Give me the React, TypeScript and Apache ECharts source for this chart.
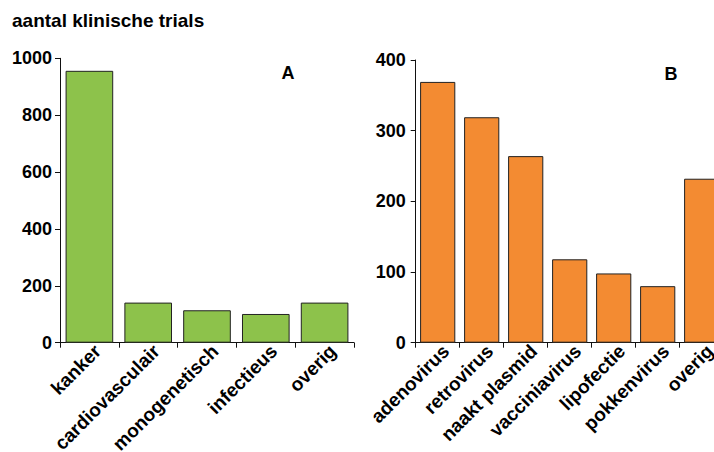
import React, { useEffect, useRef } from "react";
import * as echarts from "echarts";

const titleText = "aantal klinische trials";
const categoriesA = ["kanker", "cardiovasculair", "monogenetisch", "infectieus", "overig"];
const valuesA = [956, 141, 114, 101, 141];
const categoriesB = ["adenovirus", "retrovirus", "naakt plasmid", "vacciniavirus", "lipofectie", "pokkenvirus", "overig"];
const valuesB = [369, 319, 264, 118, 98, 80, 232];
const panelA = "A";
const panelB = "B";

const FONT = "'Liberation Sans', Arial, Helvetica, sans-serif";

export default function App() {
  const ref = useRef<HTMLDivElement>(null);
  useEffect(() => {
    if (!ref.current) return;
    const chart = echarts.init(ref.current, undefined, { renderer: "svg" });
    const axisLine = { show: true, lineStyle: { color: "#111", width: 1 } };
    const axisTick = { show: true, length: 5, inside: false, lineStyle: { color: "#111", width: 1 } };
    const xLabel = {
      interval: 0,
      rotate: 45,
      margin: 0,
      verticalAlign: "top" as const,
      padding: [0, -2, 0, 0],
      fontSize: 19,
      fontWeight: "bold" as const,
      color: "#000",
      fontFamily: FONT,
    };
    const yLabel = {
      fontSize: 18,
      fontWeight: "bold" as const,
      color: "#000",
      fontFamily: FONT,
      formatter: (v: number) => String(v),
    };
    chart.setOption({
      animation: false,
      backgroundColor: "#fff",
      title: {
        text: titleText,
        left: 7,
        top: 6,
        textStyle: { fontSize: 19, fontWeight: "bold", color: "#000", fontFamily: FONT },
      },
      graphic: [
        {
          type: "text",
          x: 288,
          y: 73,
          style: {
            text: panelA,
            textAlign: "center",
            textVerticalAlign: "middle",
            fontSize: 18,
            fontWeight: "bold",
            fill: "#000",
            fontFamily: FONT,
          },
        },
        {
          type: "text",
          x: 671,
          y: 74,
          style: {
            text: panelB,
            textAlign: "center",
            textVerticalAlign: "middle",
            fontSize: 18,
            fontWeight: "bold",
            fill: "#000",
            fontFamily: FONT,
          },
        },
      ],
      grid: [
        { left: 60, top: 58.3, width: 294, height: 284.4, containLabel: false, outerBoundsMode: "none" },
        { left: 415.7, top: 60, width: 308, height: 282.7, containLabel: false, outerBoundsMode: "none" },
      ],
      xAxis: [
        {
          type: "category",
          gridIndex: 0,
          data: categoriesA,
          axisLine,
          axisTick: { ...axisTick, alignWithLabel: false },
          axisLabel: xLabel,
        },
        {
          type: "category",
          gridIndex: 1,
          data: categoriesB,
          axisLine,
          axisTick: { ...axisTick, alignWithLabel: false },
          axisLabel: xLabel,
        },
      ],
      yAxis: [
        {
          type: "value",
          gridIndex: 0,
          min: 0,
          max: 1000,
          interval: 200,
          axisLine,
          axisTick,
          splitLine: { show: false },
          axisLabel: { ...yLabel, margin: 8 },
        },
        {
          type: "value",
          gridIndex: 1,
          min: 0,
          max: 400,
          interval: 100,
          axisLine,
          axisTick,
          splitLine: { show: false },
          axisLabel: { ...yLabel, margin: 10 },
        },
      ],
      series: [
        {
          type: "bar",
          xAxisIndex: 0,
          yAxisIndex: 0,
          data: valuesA,
          barCategoryGap: "19%",
          itemStyle: { color: "#8DC24B", borderColor: "#222", borderWidth: 1 },
        },
        {
          type: "bar",
          xAxisIndex: 1,
          yAxisIndex: 1,
          data: valuesB,
          barCategoryGap: "20%",
          itemStyle: { color: "#F38B32", borderColor: "#222", borderWidth: 1 },
        },
      ],
    });
    return () => chart.dispose();
  }, []);
  return (
    <div
      style={{ position: "fixed", left: 0, top: 0, width: 714, height: 452, overflow: "hidden", background: "#fff" }}
    >
      <div ref={ref} style={{ width: 740, height: 452 }} />
    </div>
  );
}
